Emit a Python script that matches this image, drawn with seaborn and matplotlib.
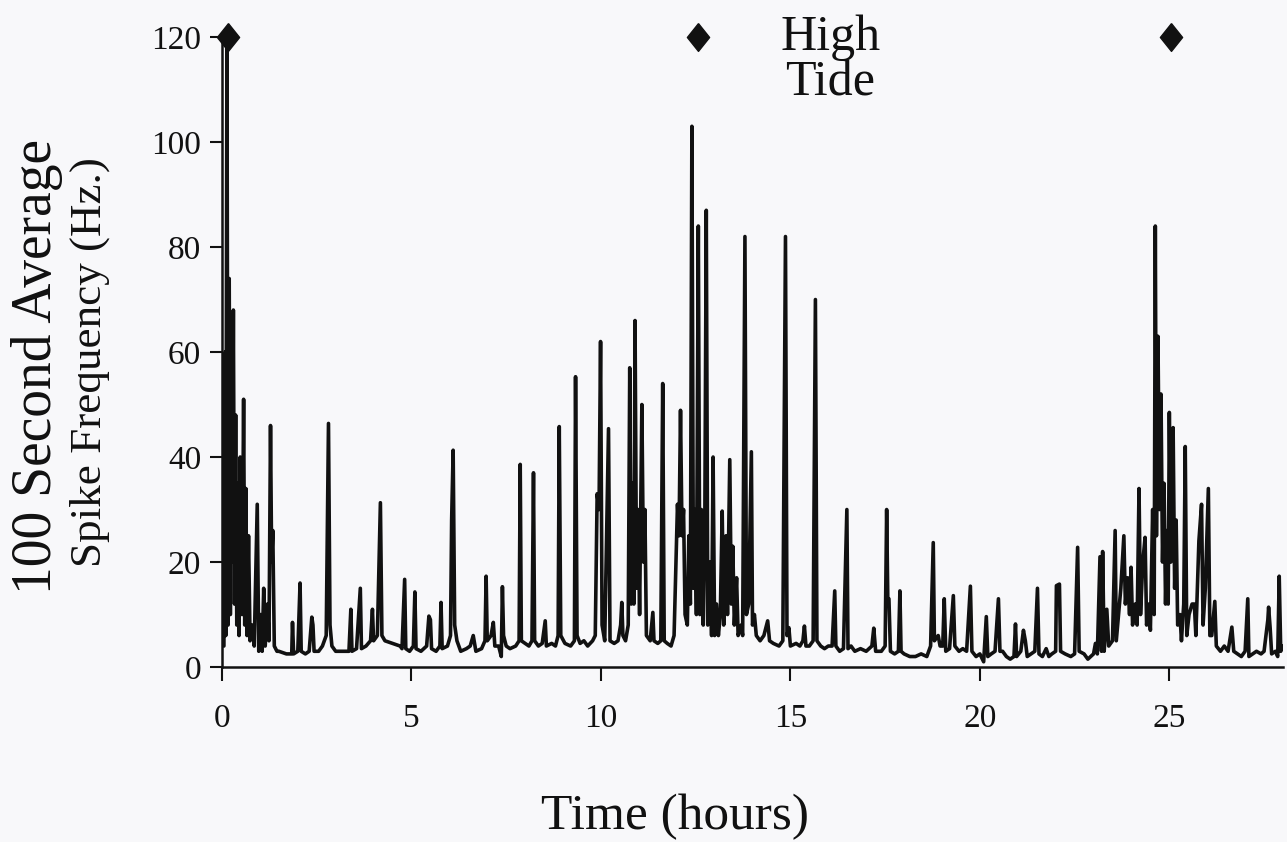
import numpy as np
import pandas as pd
import matplotlib
matplotlib.use("Agg")
import matplotlib.pyplot as plt
import seaborn as sns

# trace: time (h) and 100 s average spike rate (Hz)
time_h = [
    0.05, 0.08, 0.10, 0.13, 0.16, 0.19, 0.22, 0.25, 0.27, 0.30, 0.33, 0.36, 0.39, 0.42, 0.45,
    0.48, 0.50, 0.53, 0.57, 0.60, 0.63, 0.66, 0.70, 0.74, 0.80, 0.85, 0.93, 0.97, 1.02, 1.06,
    1.10, 1.14, 1.20, 1.24, 1.28, 1.31, 1.34, 1.38, 1.45, 1.50, 1.70, 1.84, 1.86, 1.89, 2.00,
    2.06, 2.09, 2.20, 2.30, 2.37, 2.40, 2.43, 2.55, 2.65, 2.75, 2.81, 2.85, 2.90, 3.00, 3.20,
    3.35, 3.40, 3.43, 3.55, 3.65, 3.68, 3.80, 3.92, 3.97, 4.00, 4.10, 4.18, 4.22, 4.30, 4.50,
    4.70, 4.75, 4.82, 4.85, 4.95, 5.05, 5.09, 5.12, 5.25, 5.40, 5.46, 5.50, 5.53, 5.65, 5.75,
    5.78, 5.81, 5.95, 6.03, 6.06, 6.10, 6.14, 6.20, 6.30, 6.45, 6.55, 6.63, 6.70, 6.85, 6.94,
    6.97, 7.00, 7.10, 7.16, 7.20, 7.30, 7.37, 7.40, 7.43, 7.50, 7.60, 7.75, 7.84, 7.87, 7.90,
    8.00, 8.10, 8.18, 8.22, 8.25, 8.35, 8.45, 8.53, 8.56, 8.70, 8.80, 8.87, 8.90, 8.94, 9.05,
    9.20, 9.30, 9.33, 9.37, 9.45, 9.55, 9.65, 9.78, 9.85, 9.90, 9.95, 9.99, 10.03, 10.10, 10.20,
    10.24, 10.35, 10.45, 10.52, 10.55, 10.58, 10.65, 10.72, 10.76, 10.80, 10.84, 10.87, 10.90, 10.94, 10.98,
    11.02, 11.08, 11.12, 11.16, 11.20, 11.30, 11.37, 11.40, 11.50, 11.58, 11.63, 11.67, 11.75, 11.85, 11.93,
    11.98, 12.02, 12.06, 12.10, 12.14, 12.18, 12.22, 12.28, 12.32, 12.36, 12.40, 12.44, 12.48, 12.52, 12.57,
    12.61, 12.65, 12.70, 12.74, 12.78, 12.82, 12.88, 12.92, 12.96, 13.00, 13.05, 13.10, 13.15, 13.20, 13.24,
    13.30, 13.34, 13.40, 13.44, 13.48, 13.52, 13.58, 13.62, 13.70, 13.74, 13.80, 13.84, 13.90, 13.97, 14.00,
    14.05, 14.10, 14.20, 14.30, 14.40, 14.45, 14.55, 14.70, 14.80, 14.87, 14.91, 14.96, 15.00, 15.15, 15.25,
    15.33, 15.37, 15.41, 15.50, 15.60, 15.66, 15.70, 15.80, 15.90, 16.00, 16.10, 16.17, 16.20, 16.30, 16.40,
    16.49, 16.52, 16.60, 16.70, 16.85, 17.00, 17.15, 17.20, 17.25, 17.40, 17.50, 17.54, 17.57, 17.60, 17.64,
    17.75, 17.85, 17.89, 17.92, 18.00, 18.15, 18.30, 18.45, 18.60, 18.70, 18.77, 18.80, 18.90, 18.95, 19.02,
    19.06, 19.10, 19.20, 19.30, 19.34, 19.45, 19.55, 19.65, 19.75, 19.79, 19.90, 20.00, 20.10, 20.17, 20.21,
    20.30, 20.40, 20.49, 20.53, 20.60, 20.70, 20.80, 20.90, 20.94, 20.97, 21.08, 21.15, 21.20, 21.25, 21.35,
    21.45, 21.52, 21.56, 21.65, 21.75, 21.82, 21.90, 22.00, 22.02, 22.10, 22.13, 22.25, 22.40, 22.50, 22.58,
    22.62, 22.75, 22.85, 23.00, 23.05, 23.10, 23.17, 23.21, 23.24, 23.28, 23.35, 23.40, 23.50, 23.57, 23.60,
    23.66, 23.72, 23.80, 23.84, 23.90, 23.95, 23.99, 24.03, 24.10, 24.15, 24.20, 24.24, 24.30, 24.36, 24.40,
    24.46, 24.50, 24.56, 24.60, 24.63, 24.66, 24.70, 24.74, 24.78, 24.82, 24.86, 24.90, 24.94, 24.97, 25.00,
    25.04, 25.08, 25.10, 25.14, 25.18, 25.22, 25.28, 25.32, 25.38, 25.42, 25.46, 25.52, 25.60, 25.66, 25.70,
    25.78, 25.85, 25.89, 25.95, 26.03, 26.07, 26.12, 26.20, 26.24, 26.35, 26.45, 26.55, 26.65, 26.70, 26.80,
    26.90, 27.00, 27.07, 27.10, 27.20, 27.30, 27.42, 27.50, 27.60, 27.62, 27.66, 27.70, 27.80, 27.86, 27.90,
    27.94, 27.97,
]
rate_hz = [
    4, 60, 6, 120, 8, 74, 10, 55, 20, 68, 12, 48, 8, 35, 6,
    40, 30, 10, 51, 8, 34, 6, 25, 5, 8, 4, 31, 3, 10, 3,
    15, 4, 12, 5, 46, 20, 26, 4, 3, 3, 2.5, 2.5, 8.5, 2.5, 3,
    16, 3, 2.5, 3, 9.5, 8, 3, 3, 4, 6, 46.4, 8, 4, 3, 3,
    3, 11, 3, 3.5, 15, 3.5, 4, 5, 11, 5, 6, 31.3, 6, 5, 4.5,
    4, 3.5, 16.7, 3.5, 3, 4, 14.3, 3.5, 3, 4, 9.7, 9, 3.5, 3, 4,
    12.3, 3.5, 4, 6, 28, 41.3, 8, 5, 3, 3.5, 4, 6, 3, 3.5, 5,
    17.3, 5, 6, 8.5, 4, 4, 2, 15.3, 6, 4, 3.5, 4, 5, 38.6, 5,
    4.5, 4, 5, 37, 5, 4, 4.5, 8.8, 4, 4.5, 4, 6, 45.8, 6, 4.5,
    4, 5, 55.3, 6, 4.5, 5, 4, 5, 6, 33, 30, 62, 8, 5, 45.4,
    5, 4.5, 5, 8, 12.3, 6, 5, 8, 57, 12, 35, 12, 66, 15, 30,
    10, 50, 20, 30, 6, 5, 10.4, 5, 4.5, 5, 54, 5, 4.5, 4, 6,
    20, 31, 25, 48.9, 25, 30, 10, 8, 25, 12, 103, 15, 30, 10, 84,
    10, 30, 8, 25, 87, 8, 20, 6, 40, 6, 12, 6, 10, 29.7, 8,
    25, 10, 39.5, 12, 23, 8, 17, 6, 8, 6, 82, 10, 12, 41, 8,
    10, 6, 5, 6, 8.8, 5, 4.5, 4, 5, 82, 6, 7.5, 4, 4.5, 4,
    5, 7.8, 4, 4, 5, 70, 5, 4, 3.5, 4, 4, 14.5, 4, 3, 3.5,
    30, 3.5, 4, 3, 3.5, 3, 4, 7.4, 3, 3, 4, 30, 13, 13, 3,
    2.5, 3, 14.5, 3, 2.5, 2, 2, 2.5, 2, 4, 23.7, 5, 6, 4, 4,
    13, 3, 3.5, 13.6, 4, 3, 3.5, 3, 15.4, 3, 2, 2.5, 1, 9.6, 2,
    2.5, 3, 13, 3, 3, 2, 1.5, 2, 8.2, 2, 3, 7, 5, 2, 2.5,
    3, 15, 2.5, 2, 3.5, 2, 2.5, 3, 15.5, 15.8, 3, 2.5, 2, 2.5, 22.8,
    3, 2.5, 1.5, 2.5, 4.5, 2.5, 21, 3, 22, 3, 11, 4, 5, 26, 5,
    10, 15, 25, 12, 17, 10, 19, 8, 12, 8, 34, 10, 20, 24.7, 8,
    12, 7, 30, 10, 84, 25, 63, 30, 52, 20, 35, 12, 26, 12, 48.5,
    20, 30, 45.6, 15, 28, 8, 10, 5, 12, 42, 6, 10, 12, 12, 6,
    24, 31, 8, 15, 34, 6, 6, 12.5, 4, 3, 4, 3, 7.6, 3, 2.5,
    2, 3, 13, 2, 2.5, 3, 2.5, 3, 9, 11.4, 7.5, 2.5, 3, 2, 17.3,
    3, 4,
]

# high tide markers
tide_h = [0.15, 12.55, 25.05]
tide_y = [120, 120, 120]

x_ticks = [0, 5, 10, 15, 20, 25]
y_ticks = [0, 20, 40, 60, 80, 100, 120]

df = pd.DataFrame({"time": time_h, "rate": rate_hz})

sns.set_style("ticks")
plt.rcParams["font.family"] = ["Liberation Serif", "DejaVu Serif"]

bg = "#f8f8fa"
ink = "#111111"

fig = plt.figure(figsize=(12.87, 8.42), dpi=100, facecolor=bg)
ax = fig.add_axes([0.1725, 0.2078, 0.8244, 0.7482])
ax.set_facecolor(bg)

sns.lineplot(data=df, x="time", y="rate", estimator=None, sort=False,
             color=ink, lw=2.6, ax=ax)

diamond = [(0, 1.25), (1, 0), (0, -1.25), (-1, 0), (0, 1.25)]
ax.plot(tide_h, tide_y, ls="none", marker=diamond, ms=20, color=ink,
        clip_on=False, zorder=5)

ax.text(16.05, 117.5, "High", ha="center", va="baseline", fontsize=36, color=ink)
ax.text(16.05, 108.8, "Tide", ha="center", va="baseline", fontsize=36, color=ink)

ax.set_xlim(0, 28)
ax.set_ylim(0, 120)
ax.set_xticks(x_ticks)
ax.set_yticks(y_ticks)
ax.tick_params(axis="x", labelsize=24, length=10, width=1.5, pad=16, colors=ink)
ax.tick_params(axis="y", labelsize=24, length=9, width=1.5, pad=6, colors=ink)
ax.set_xlabel("")
ax.set_ylabel("")
sns.despine(ax=ax)
for s in ["left", "bottom"]:
    ax.spines[s].set_linewidth(1.8)
    ax.spines[s].set_color(ink)

fig.text(37 / 1287, 1 - 366 / 842, "100 Second Average", rotation=90,
         ha="center", va="center", fontsize=40, color=ink)
fig.text(90 / 1287, 1 - 362 / 842, "Spike Frequency (Hz.)", rotation=90,
         ha="center", va="center", fontsize=32.5, color=ink)
fig.text(675 / 1287, 1 - 817 / 842, "Time (hours)", ha="center", va="center",
         fontsize=37, color=ink)

fig.savefig("out.png", dpi=100, facecolor=bg)
